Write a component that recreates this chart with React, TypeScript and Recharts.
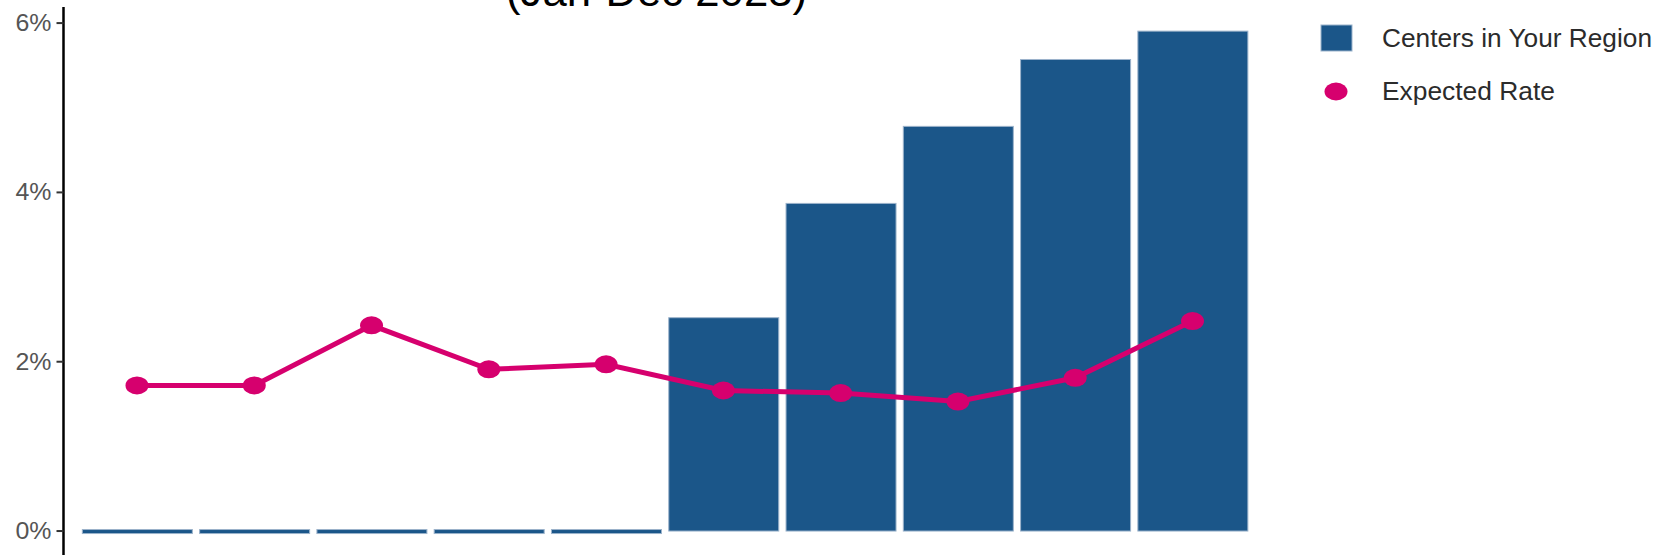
import React from 'react';
import { ComposedChart, Bar, Line, XAxis, YAxis, Legend } from 'recharts';

const categories = ['P1', 'P2', 'P3', 'P4', 'P5', 'P6', 'P7', 'P8', 'P9', 'P10'];
const centerRates = [0, 0, 0, 0, 0, 2.52, 3.87, 4.78, 5.57, 5.905];
const expectedRates = [1.72, 1.72, 2.43, 1.91, 1.97, 1.66, 1.63, 1.53, 1.81, 2.48];
const yTicks = [0, 2, 4, 6];
const yDomain = [-0.283, 6.19];
const titleText = '(Jan-Dec 2023)';
const seriesNames = ['Centers in Your Region', 'Expected Rate'];

const data = categories.map((c, i) => ({
  category: c,
  centers: centerRates[i],
  expected: expectedRates[i],
}));

const BAR_FILL = '#1B5689';
const BAR_STROKE = '#9CB3CB';
const PINK = '#D6006E';
const FONT = '"Liberation Sans", Arial, Helvetica, sans-serif';

function BarShape(props: any) {
  const { x, y, width, height, payload } = props;
  if (payload && payload.centers === 0) {
    const base = y + height;
    return (
      <rect x={x} y={base - 1.5} width={width} height={4} fill={BAR_FILL} stroke={BAR_STROKE} strokeWidth={1} />
    );
  }
  return <rect x={x} y={y} width={width} height={height} fill={BAR_FILL} stroke={BAR_STROKE} strokeWidth={1} />;
}

function Dot(props: any) {
  const { cx, cy } = props;
  if (cx == null || cy == null) return null;
  return <ellipse cx={cx} cy={cy} rx={11.5} ry={9} fill={PINK} />;
}

function YTick(props: any) {
  const { x, y, payload } = props;
  return (
    <text
      x={x}
      y={y}
      dy={8}
      textAnchor="end"
      fontSize={23}
      fill="#555"
      fontFamily={FONT}
      textLength={36}
      lengthAdjust="spacingAndGlyphs"
    >
      {payload.value}%
    </text>
  );
}

function Overlay() {
  return (
    <svg width={1660} height={120} style={{ display: 'block', pointerEvents: 'none' }}>
      <text
        x={506}
        y={6}
        fontSize={42}
        fill="#000"
        fontFamily={FONT}
        textLength={301}
        lengthAdjust="spacingAndGlyphs"
      >
        {titleText}
      </text>
      <rect x={1321} y={25} width={31} height={26} fill={BAR_FILL} stroke={BAR_STROKE} strokeWidth={1} />
      <text x={1382} y={47} fontSize={25} fill="#2b2b2b" fontFamily={FONT} textLength={270} lengthAdjust="spacingAndGlyphs">
        {seriesNames[0]}
      </text>
      <ellipse cx={1336} cy={91.5} rx={11.5} ry={9} fill={PINK} />
      <text x={1382} y={100} fontSize={25} fill="#2b2b2b" fontFamily={FONT} textLength={173} lengthAdjust="spacingAndGlyphs">
        {seriesNames[1]}
      </text>
    </svg>
  );
}

export default function App() {
  return (
    <div style={{ position: 'absolute', left: 0, top: 0, background: '#fff' }}>
      <ComposedChart
        width={1660}
        height={555}
        data={data}
        margin={{ top: 7, right: 394, bottom: 0, left: 0 }}
      >
        <XAxis dataKey="category" hide padding={{ left: 14.85, right: 14.85 }} />
        <YAxis
          width={63.5}
          domain={yDomain}
          ticks={yTicks}
          allowDataOverflow
          tick={<YTick />}
          tickSize={7}
          tickMargin={5}
          axisLine={{ stroke: '#000', strokeWidth: 2.5 }}
          tickLine={{ stroke: '#333', strokeWidth: 2 }}
        />
        <Bar dataKey="centers" barSize={110} shape={<BarShape />} isAnimationActive={false} />
        <Line
          dataKey="expected"
          stroke={PINK}
          strokeWidth={5}
          dot={<Dot />}
          activeDot={false}
          isAnimationActive={false}
        />
        <Legend
          layout="horizontal"
          verticalAlign="middle"
          align="center"
          wrapperStyle={{ position: 'absolute', left: 0, top: 0, width: 1660, height: 120 }}
          content={() => <Overlay />}
        />
      </ComposedChart>
    </div>
  );
}
